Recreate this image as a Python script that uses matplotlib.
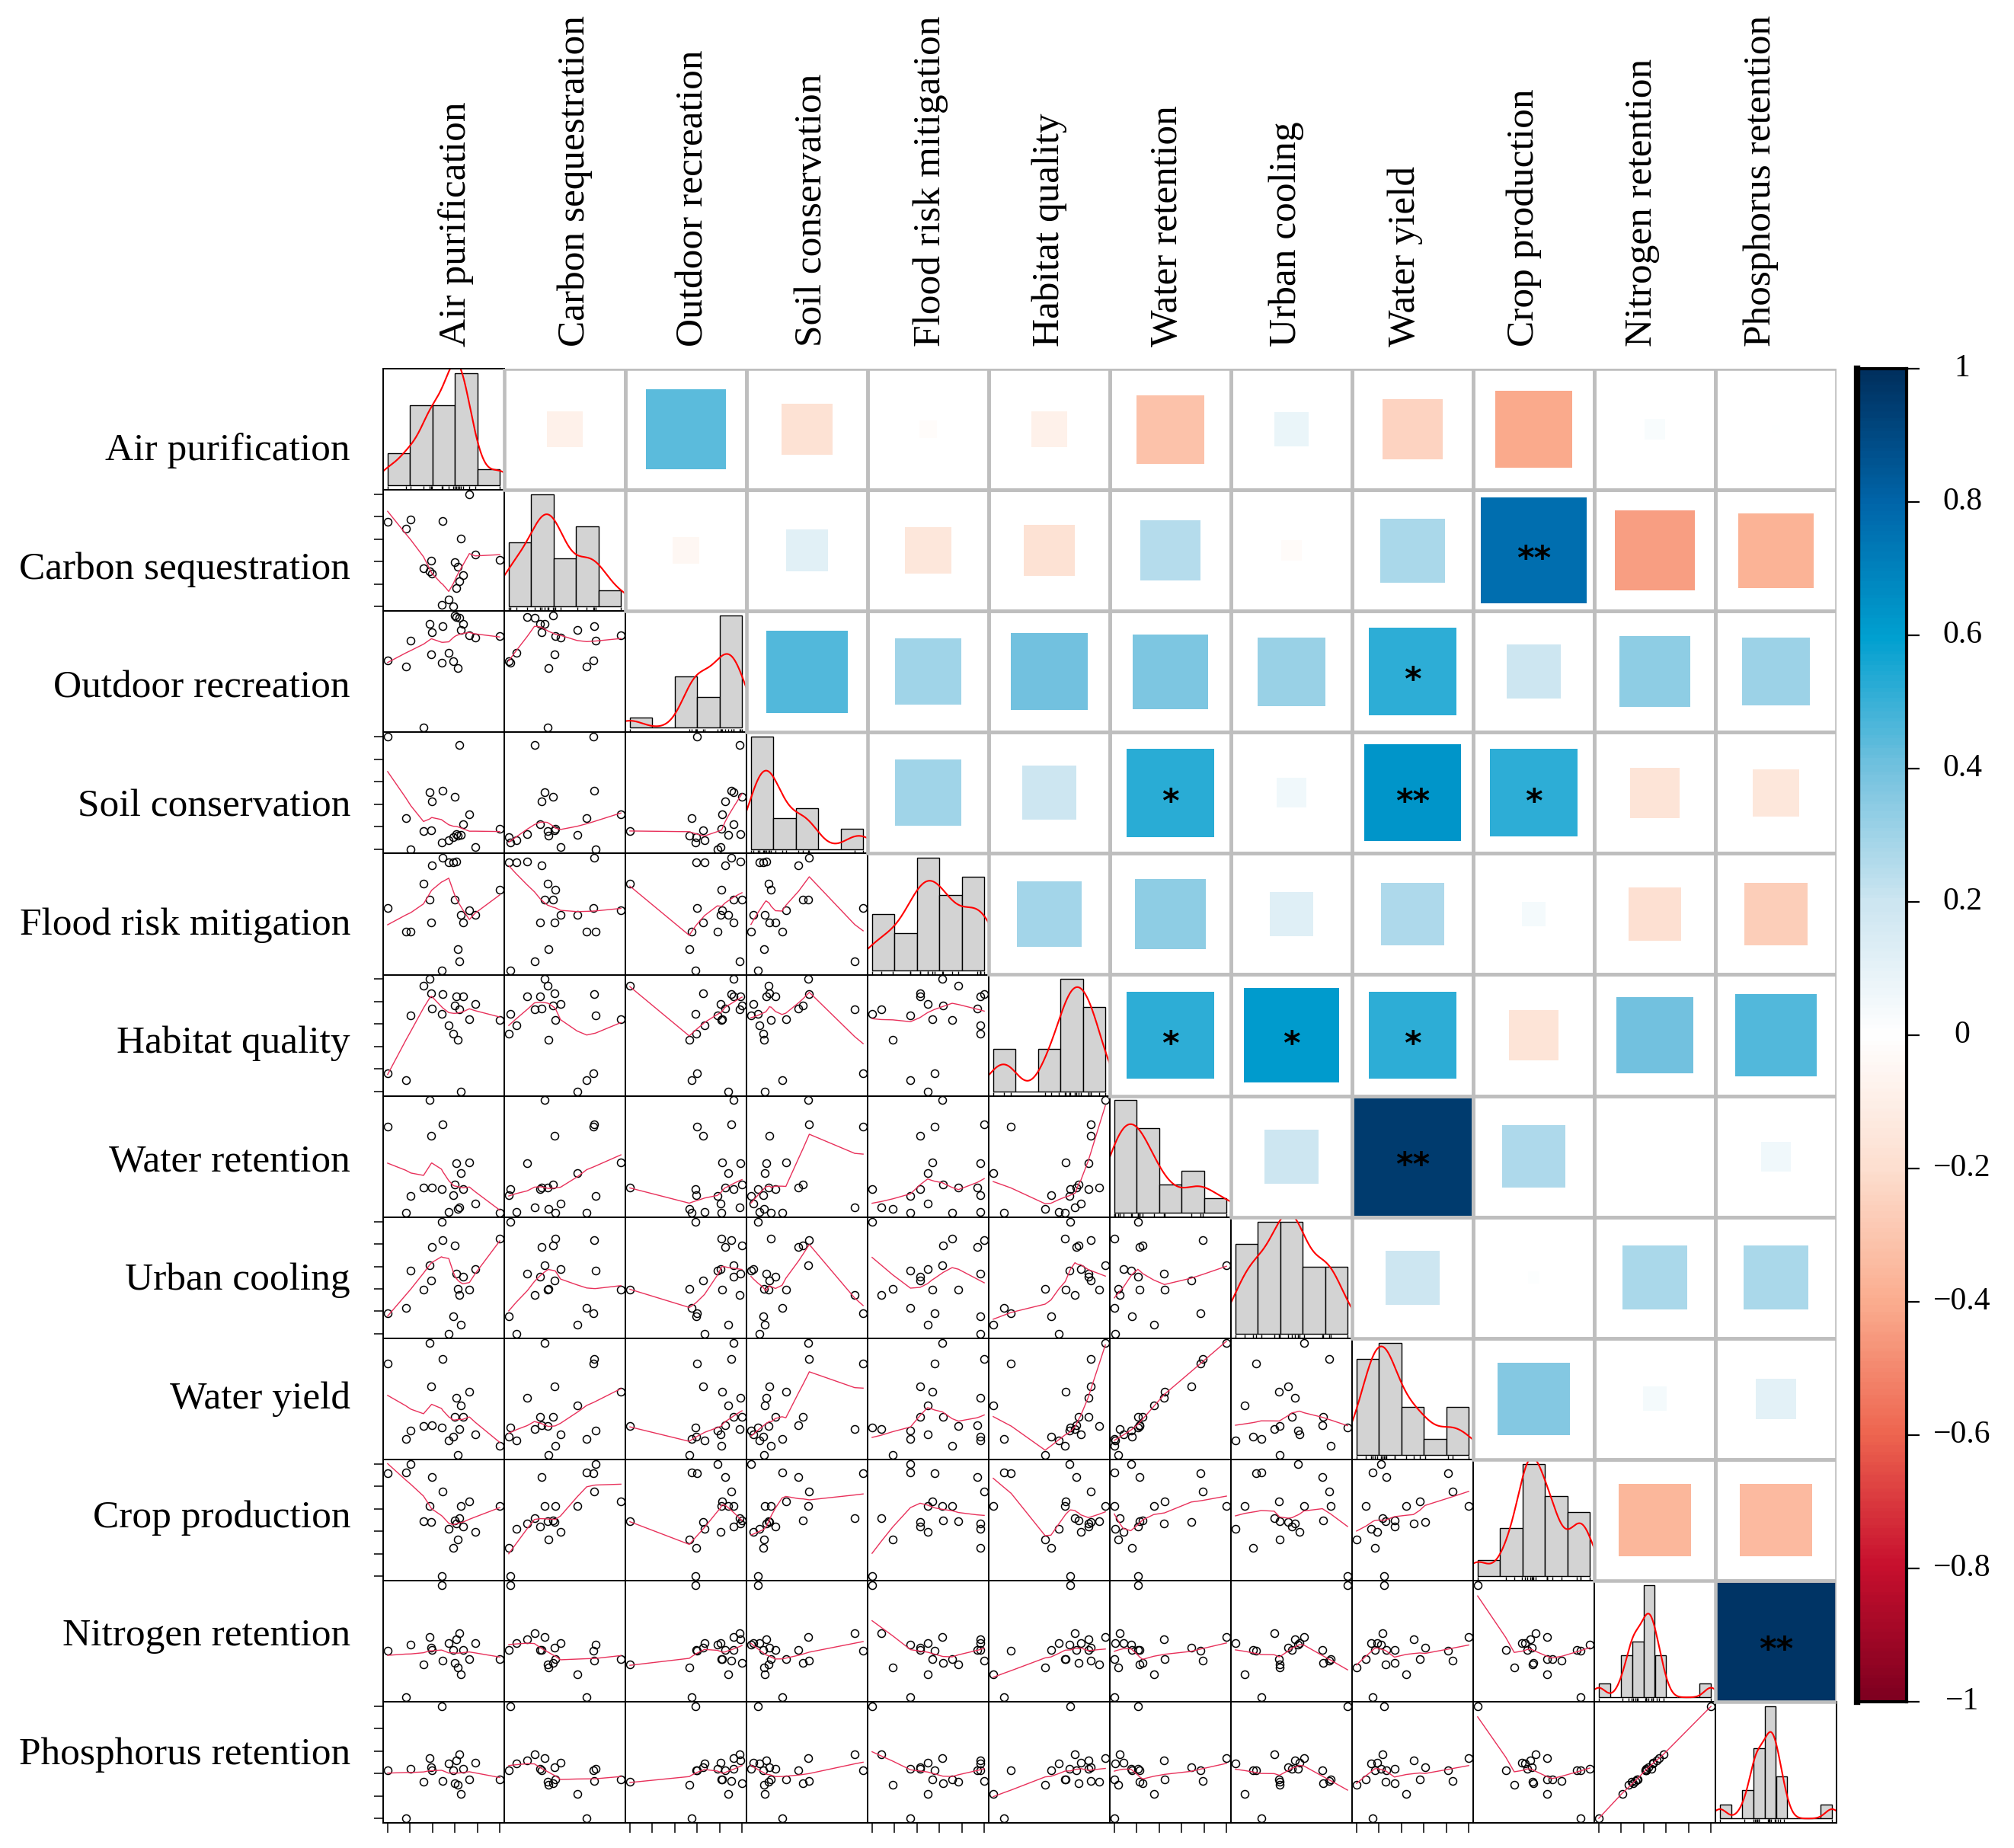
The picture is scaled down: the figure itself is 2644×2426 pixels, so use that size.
import numpy as np
import matplotlib.pyplot as plt
from matplotlib.colors import LinearSegmentedColormap
from matplotlib.patches import Rectangle

plt.rcParams['font.family'] = ['Liberation Serif', 'DejaVu Serif']

labels = ['Air purification', 'Carbon sequestration', 'Outdoor recreation', 'Soil conservation',
          'Flood risk mitigation', 'Habitat quality', 'Water retention', 'Urban cooling',
          'Water yield', 'Crop production', 'Nitrogen retention', 'Phosphorus retention']

# values per site (scaled 0-100)
air = [0, 16.1, 20.7, 32.0, 37.5, 38.6, 39.3, 48.0, 49.1, 54.5, 58.6, 59.8, 61.0, 62.7, 63.6, 65.5, 67.0, 72.9, 78.0, 100]
carbon = [75.6, 69.5, 77.4, 34.4, 31.7, 41.0, 29.2, 1.4, 76.2, 6.6, 0.0, 39.5, 16.5, 35.5, 22.9, 60.9, 28.1, 100, 46.2, 41.6]
outdoor = [59.8, 54.8, 78.0, 0, 92.7, 65.5, 84.8, 58.2, 90.5, 66.6, 59.1, 100, 98.9, 53.0, 97.7, 87.5, 92.5, 82.3, 80.7, 81.4]
soil = [100, 27.7, 0, 15.7, 50.9, 16.4, 42.5, 6.1, 52.0, 7.7, 10.7, 46.6, 13.4, 11.8, 92.5, 12.3, 21.8, 31.1, 2.0, 18.0]
flood = [55.6, 34.2, 34.2, 77.0, 62.8, 42.6, 93.5, 0, 100, 96.2, 96.2, 63.1, 96.6, 18.5, 7.9, 49.5, 42.8, 53.4, 49.5, 71.4]
habitat = [16.0, 9.7, 67.7, 94.4, 100, 87.1, 74.0, 68.8, 86.9, 58.7, 51.5, 76.3, 84.7, 46.3, 72.9, 0, 84.7, 64.3, 77.9, 63.9]
water_ret = [76.9, 0, 14.7, 22.6, 100, 68.6, 22.6, 21.0, 78.7, 0.5, 15.4, 25.3, 44.1, 3.4, 4.5, 35.1, 21.0, 44.6, 7.9, 0.2]
urban = [18.4, 22.9, 56.0, 39.5, 61.1, 47.2, 77.5, 100, 83.6, 0, 15.5, 78.4, 53.3, 39.8, 34.6, 8.3, 50.6, 39.1, 57.3, 84.7]
water_yield = [81.5, 14.4, 21.8, 25.9, 100, 61.0, 26.8, 24.5, 85.4, 12.8, 16.2, 33.8, 50.7, 0, 23.0, 44.4, 33.8, 56.3, 18.5, 8.3]
crop = [91.6, 92.1, 100, 49.1, 62.2, 48.6, 88.2, 0, 75.1, 41.9, 24.9, 49.8, 46.8, 32.6, 51.4, 62.2, 43.9, 66.7, 39.4, 62.2]
nitrogen = [41.6, 0, 46.8, 29.2, 53.6, 44.1, 42.3, 100, 32.8, 48.0, 42.3, 30.5, 51.4, 26.9, 57.5, 20.8, 41.9, 34.4, 48.4, 33.9]
phosphorus = [43.3, 0, 44.5, 32.7, 53.7, 45.8, 42.9, 100, 33.2, 49.2, 43.3, 31.2, 51.5, 29.8, 56.9, 22.1, 44.5, 35.0, 49.5, 34.5]

data = np.array([air, carbon, outdoor, soil, flood, habitat, water_ret, urban,
                 water_yield, crop, nitrogen, phosphorus], dtype=float)

# correlations shown in the upper triangle, one list per row (columns to the right of the diagonal)
r_air = [-0.09, 0.44, -0.18, -0.02, -0.09, -0.32, 0.08, -0.25, -0.41, 0.03, 0.005]
r_carbon = [-0.05, 0.12, -0.15, -0.18, 0.25, -0.03, 0.28, 0.77, -0.44, -0.38]
r_outdoor = [0.46, 0.30, 0.40, 0.38, 0.32, 0.52, 0.20, 0.34, 0.31]
r_soil = [0.30, 0.20, 0.53, 0.06, 0.64, 0.52, -0.17, -0.15]
r_flood = [0.29, 0.34, 0.13, 0.27, 0.04, -0.19, -0.27]
r_habitat = [0.52, 0.61, 0.52, -0.17, 0.40, 0.46]
r_wret = [0.20, 0.96, 0.27, 0.0, 0.06]
r_urban = [0.20, 0.01, 0.28, 0.28]
r_wyield = [0.36, 0.04, 0.11]
r_crop = [-0.36, -0.35]
r_nitro = [0.98]
upper = [r_air, r_carbon, r_outdoor, r_soil, r_flood, r_habitat, r_wret, r_urban, r_wyield, r_crop, r_nitro]

sig_marks = [('Carbon sequestration', 'Crop production', '**'),
             ('Outdoor recreation', 'Water yield', '*'),
             ('Soil conservation', 'Water retention', '*'),
             ('Soil conservation', 'Water yield', '**'),
             ('Soil conservation', 'Crop production', '*'),
             ('Habitat quality', 'Water retention', '*'),
             ('Habitat quality', 'Urban cooling', '*'),
             ('Habitat quality', 'Water yield', '*'),
             ('Water retention', 'Water yield', '**'),
             ('Nitrogen retention', 'Phosphorus retention', '**')]

cb_ticks = [1, 0.8, 0.6, 0.4, 0.2, 0, -0.2, -0.4, -0.6, -0.8, -1]

cmap = LinearSegmentedColormap.from_list('corr', [
    (0.0, '#7F0020'), (0.1, '#C8102E'), (0.2, '#EE6650'), (0.3, '#FBAE90'), (0.4, '#FDDFD0'),
    (0.5, '#FFFFFF'), (0.6, '#CDE6F1'), (0.7, '#74C2DF'), (0.8, '#00A0D0'), (0.9, '#0066AA'),
    (1.0, '#00305F')])


def lowess(x, y, f=2/3, it=3):
    o = np.argsort(x, kind='stable')
    x = np.asarray(x, float)[o]
    y = np.asarray(y, float)[o]
    n = len(x)
    ns = max(2, min(n, int(f*n + 1e-7)))
    rw = np.ones(n)
    ys = y.copy()
    rng = x[-1] - x[0]
    for k in range(it + 1):
        for i in range(n):
            d = np.abs(x - x[i])
            h = np.sort(d)[ns - 1]
            if h > 0:
                q = d / h
                w = np.where(q <= 0.999, (1 - np.clip(q, 0, 1)**3)**3, 0.0)
                w[q <= 0.001] = 1.0
            else:
                w = (d == 0).astype(float)
            w = w * rw
            if w.sum() <= 0:
                ys[i] = y[i]
                continue
            w = w / w.sum()
            if h > 0:
                a = (w * x).sum()
                c = (w * (x - a)**2).sum()
                if np.sqrt(c) > 0.001 * rng:
                    b = (x[i] - a) / c
                    w = w * (b * (x - a) + 1)
            ys[i] = (w * y).sum()
        if k == it:
            break
        res = y - ys
        cmad = 6 * np.median(np.abs(res))
        if cmad < 1e-7 * np.mean(np.abs(y)):
            break
        u = np.abs(res) / cmad
        rw = np.where(u <= 0.999, (1 - np.clip(u, 0, 1)**2)**2, 0.0)
        rw[u <= 0.001] = 1.0
    return x, ys


W, H = 2644, 2426
fig = plt.figure(figsize=(W/100, H/100), dpi=100)
x0, y0 = 503, 484
cw, ch = 159.0, 159.1
n = len(labels)


def rect(i, j):
    return [(x0 + j*cw)/W, 1 - (y0 + (i+1)*ch)/H, cw/W, ch/H]


ticks = np.arange(0, 101, 20)
for i in range(n):
    for j in range(i + 1):
        ax = fig.add_axes(rect(i, j))
        ax.set_xlim(-4, 104)
        if i == j:
            v = data[i]
            bins = np.linspace(0, 100, 11 if i >= 10 else 6)
            counts, _ = np.histogram(v, bins)
            dens = counts / (len(v) * np.diff(bins))
            ax.bar(bins[:-1], dens, width=np.diff(bins), align='edge',
                   color='#D3D3D3', edgecolor='black', linewidth=1.0)
            m = dens.max()
            ax.set_ylim(-0.04*m, 1.04*m)
            sd = v.std(ddof=1)
            iqr = np.subtract(*np.percentile(v, [75, 25]))
            bw = 0.9 * min(sd, iqr/1.34) * len(v)**-0.2
            gx = np.linspace(v.min() - 3*bw, v.max() + 3*bw, 512)
            gy = np.exp(-0.5*((gx[:, None] - v[None, :])/bw)**2).sum(1) / (len(v)*bw*np.sqrt(2*np.pi))
            ax.plot(gx, gy, color='red', lw=1.5)
            ax.vlines(v, -0.04*m, -0.04*m + 0.03*1.08*m, color='black', lw=1.0)
        else:
            xv, yv = data[j], data[i]
            ax.set_ylim(-4, 104)
            ax.plot(xv, yv, 'o', mfc='none', mec='black', ms=7.2, mew=1.1)
            lx, ly = lowess(xv, yv)
            ax.plot(lx, ly, color='#E8305A', lw=1.0)
        ax.set_xticks([])
        ax.set_yticks([])
        if i != j and j == 0 and i % 2 == 1:
            ax.set_yticks(ticks)
        if i != j and i == n - 1 and j % 2 == 0:
            ax.set_xticks(ticks)
        ax.tick_params(length=9, width=1.1, labelleft=False, labelbottom=False)
        for s in ax.spines.values():
            s.set_linewidth(1.4)

# upper triangle (correlation squares)
ov = fig.add_axes([x0/W, 1 - (y0 + 12*ch)/H, 12*cw/W, 12*ch/H])
ov.set_xlim(0, 12)
ov.set_ylim(12, 0)
ov.axis('off')
for i in range(n):
    for j in range(i + 1, n):
        ov.add_patch(Rectangle((j, i), 1, 1, facecolor='white', edgecolor='none'))
        r = upper[i][j - i - 1]
        s = np.sqrt(abs(r))
        ov.add_patch(Rectangle((j + 0.5 - s/2, i + 0.5 - s/2), s, s,
                               facecolor=cmap((r + 1)/2), edgecolor='none'))
for i in range(n):
    for j in range(i + 1, n):
        ov.add_patch(Rectangle((j, i), 1, 1, facecolor='none', edgecolor='#BEBEBE', lw=3.3))
for a, b, mark in sig_marks:
    i, j = labels.index(a), labels.index(b)
    ov.text(j + 0.5, i + 0.58, mark, ha='center', va='center', fontsize=31,
            family='DejaVu Sans', fontweight='bold', color='black')

# colour bar
cax = fig.add_axes([2438/W, 1 - (y0 + 11*ch)/H, 65/W, 11*ch/H])
grad = np.linspace(1, -1, 400)[:, None]
cax.imshow(grad, aspect='auto', cmap=cmap, vmin=-1, vmax=1, extent=[0, 1, -1, 1])
cax.set_xlim(0, 1)
cax.set_ylim(-1, 1)
cax.set_xticks([])
cax.yaxis.tick_right()
cax.set_yticks(cb_ticks)
cax.tick_params(axis='y', length=12, width=1.6, labelright=False)
for s in cax.spines.values():
    s.set_linewidth(3.0)
cax.spines['left'].set_linewidth(6)
for t in cb_ticks:
    lab = ('%g' % t).replace('-', '\u2212')
    cax.text((2576 - 2438)/65, t, lab, ha='center', va='center', fontsize=30,
             transform=cax.get_yaxis_transform())

# variable names
for k, lab in enumerate(labels):
    fig.text(460/W, 1 - (592 + 155.6*k)/H, lab, ha='right', va='center', fontsize=37)
    fig.text((599 + 155.7*k)/W, 1 - 455/H, lab, ha='center', va='bottom', fontsize=37, rotation=90)

fig.savefig('out.png', dpi=100)
